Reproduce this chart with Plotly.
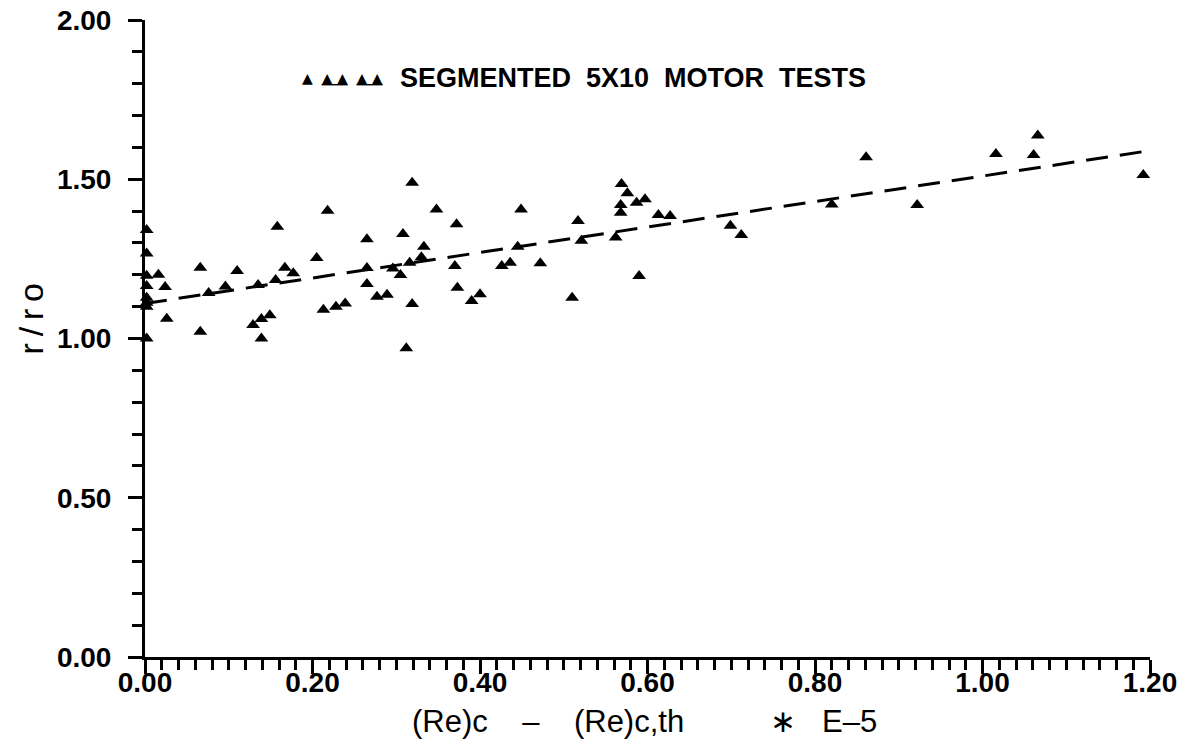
import plotly.graph_objects as go

# measured points: (Re)c - (Re)c,th [*E-5] vs r/ro
x_vals = [
    0.002, 0.002, 0.002, 0.002, 0.002, 0.002, 0.002, 0.002,
    0.016, 0.024, 0.026,
    0.066, 0.066, 0.076, 0.096, 0.110,
    0.129, 0.135, 0.139, 0.139, 0.149, 0.156, 0.158, 0.167, 0.177,
    0.205, 0.213, 0.218, 0.228, 0.239,
    0.265, 0.265, 0.265, 0.277, 0.289, 0.296, 0.305, 0.308, 0.312, 0.316, 0.319, 0.319, 0.330, 0.333,
    0.348, 0.370, 0.372, 0.373, 0.390, 0.400,
    0.426, 0.436, 0.445, 0.449, 0.472,
    0.510, 0.517, 0.521, 0.562, 0.568, 0.568, 0.569, 0.576, 0.587, 0.590, 0.597,
    0.613, 0.627, 0.699, 0.712, 0.820, 0.861, 0.922, 1.016, 1.061, 1.066, 1.192,
]
y_vals = [
    1.341, 1.267, 1.197, 1.165, 1.128, 1.112, 1.100, 1.000,
    1.200, 1.162, 1.062,
    1.222, 1.021, 1.143, 1.163, 1.212,
    1.042, 1.168, 1.000, 1.061, 1.073, 1.184, 1.351, 1.222, 1.205,
    1.253, 1.090, 1.401, 1.100, 1.110,
    1.312, 1.221, 1.171, 1.131, 1.137, 1.220, 1.199, 1.328, 0.969, 1.238, 1.489, 1.108, 1.255, 1.288,
    1.405, 1.228, 1.359, 1.159, 1.118, 1.139,
    1.228, 1.238, 1.288, 1.405, 1.236,
    1.128, 1.369, 1.307, 1.317, 1.395, 1.419, 1.485, 1.456, 1.426, 1.196, 1.437,
    1.388, 1.385, 1.354, 1.325, 1.421, 1.569, 1.419, 1.579, 1.576, 1.637, 1.513,
]

# fitted trend line endpoints
fit_x = [0.0, 1.2]
fit_y = [1.11, 1.59]

x_ticks = [0.0, 0.2, 0.4, 0.6, 0.8, 1.0, 1.2]
y_ticks = [0.0, 0.5, 1.0, 1.5, 2.0]

tick_font = dict(family="Liberation Sans, Arial, sans-serif", size=28, color="black", weight="bold")
title_font = dict(family="Liberation Sans, Arial, sans-serif", size=31, color="black")

fig = go.Figure()
fig.add_trace(go.Scatter(
    x=fit_x, y=fit_y, mode="lines",
    line=dict(color="black", width=3, dash="22px,12px"),
    showlegend=False,
))
fig.add_trace(go.Scatter(
    x=x_vals, y=y_vals, mode="markers",
    marker=dict(symbol="triangle-up", size=12, color="black"),
    cliponaxis=False, showlegend=False,
))

axis_common = dict(
    showline=True, linecolor="black", linewidth=3, automargin=False,
    ticks="outside", ticklen=14, tickwidth=3, tickcolor="black",
    showgrid=False, zeroline=False, tickfont=tick_font, ticklabeloverflow="allow",
    minor=dict(ticks="outside", ticklen=10, tickwidth=3, tickcolor="black", showgrid=False),
)
fig.update_xaxes(
    range=[0, 1.2], tickvals=x_ticks, ticktext=[f"{v:.2f}" for v in x_ticks],
    minor_dtick=0.02, minor_tick0=0, ticklabelstandoff=-16, **axis_common,
)
fig.update_yaxes(
    range=[0, 2.0], tickvals=y_ticks, ticktext=[f"{v:.2f}" for v in y_ticks],
    minor_dtick=0.1, minor_tick0=0, ticklabelstandoff=11, **axis_common,
)

nb = "\u00a0"
fig.add_annotation(
    text=f"(Re)c{nb*4}\u2013{nb*4}(Re)c,th{nb*10}\u2217{nb*3}E\u20135",
    xref="paper", yref="paper", x=0.497, y=-0.102,
    xanchor="center", yanchor="middle", showarrow=False, font=title_font,
)
fig.add_annotation(
    text="r\u2009/\u2009r\u2009o", textangle=-90,
    xref="paper", yref="paper", x=-0.1134, y=0.53,
    xanchor="center", yanchor="middle", showarrow=False,
    font=dict(family="Liberation Sans, Arial, sans-serif", size=34, color="black"),
)
# legend key and label
fig.add_annotation(
    text=f"\u25b2{nb*2}<u>\u25b2{nb}\u25b2</u>{nb*2}<u>\u25b2{nb}\u25b2</u>",
    xref="paper", yref="paper", x=0.154, y=0.909,
    xanchor="left", yanchor="middle", showarrow=False,
    font=dict(family="DejaVu Sans, sans-serif", size=14, color="black"),
)
fig.add_annotation(
    text=f"SEGMENTED{nb*2}5X10{nb*2}MOTOR{nb*2}TESTS",
    xref="paper", yref="paper", x=0.2517, y=0.909,
    xanchor="left", yanchor="middle", showarrow=False,
    font=dict(family="Liberation Sans Narrow, Arial Narrow, Liberation Sans, sans-serif",
              size=27, color="black", weight="bold"),
)

# page body adds an 8px offset, so margins are shifted to compensate
fig.update_layout(
    width=1193, height=742,
    margin=dict(l=137, r=51, t=12, b=93),
    plot_bgcolor="white", paper_bgcolor="white",
)
fig.write_html("out.html")
